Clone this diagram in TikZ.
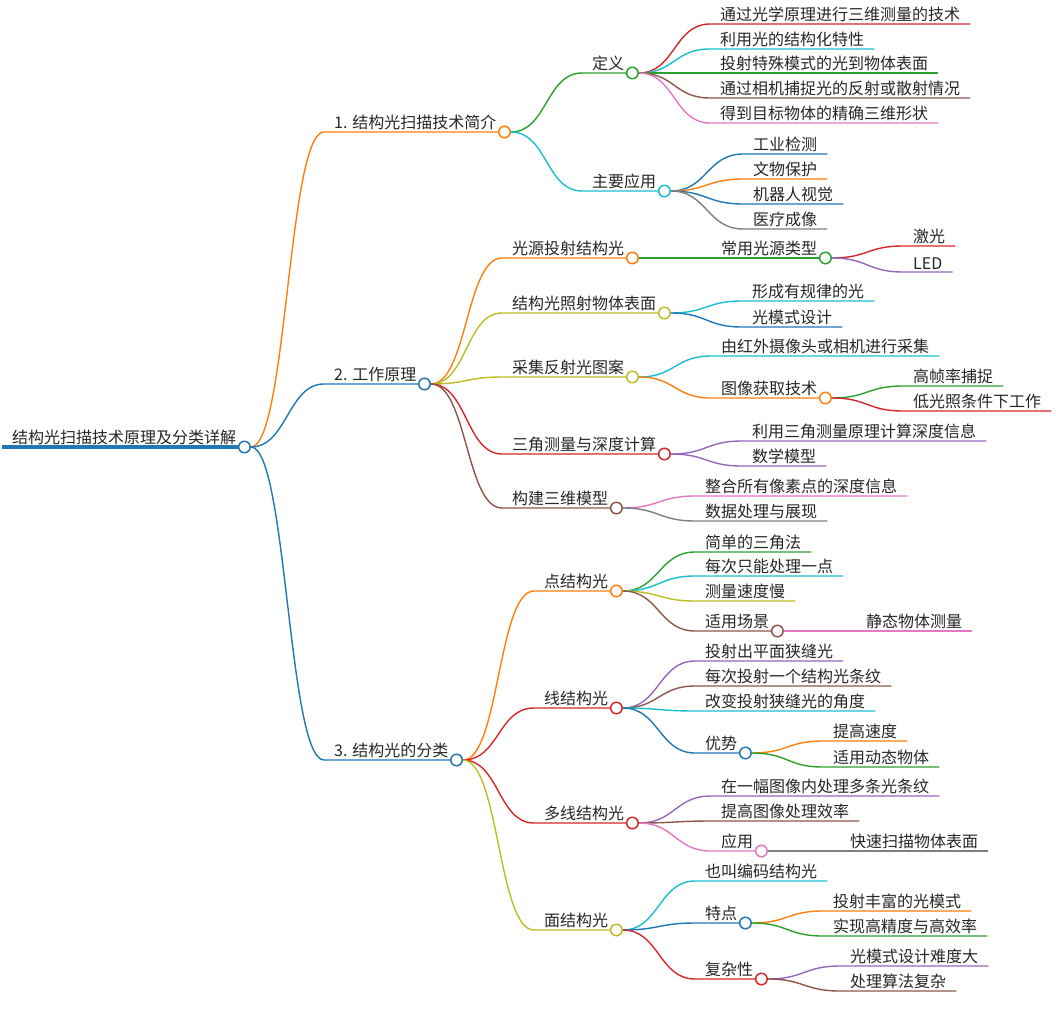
\documentclass[tikz,border=0pt]{standalone}
\usepackage{fontspec}
\setmainfont{Noto Sans CJK SC}
\usetikzlibrary{positioning}
\pgfdeclarelayer{bg}
\pgfsetlayers{bg,main}
\definecolor{tblue}{HTML}{1F77B4}
\definecolor{torange}{HTML}{FF7F0E}
\definecolor{tgreen}{HTML}{2CA02C}
\definecolor{tred}{HTML}{D62728}
\definecolor{tpurple}{HTML}{9467BD}
\definecolor{tbrown}{HTML}{8C564B}
\definecolor{tpink}{HTML}{E377C2}
\definecolor{tgray}{HTML}{7F7F7F}
\definecolor{tolive}{HTML}{BCBD22}
\definecolor{tcyan}{HTML}{17BECF}

\begin{document}
\begin{tikzpicture}[x=1pt,y=-1pt,
  topic/.style={anchor=south west,inner xsep=10pt,inner ysep=2pt,text=black!85,font=\fontsize{16pt}{19pt}\selectfont},
  hub/.style={circle,draw=#1,fill=white,line width=1.5pt,minimum size=11.5pt,inner sep=0pt},
  link/.style={draw=#1,line width=1.4pt,to path={.. controls +(36pt,0) and +(-36pt,0) .. (\tikztotarget)}}]
  \useasboundingbox (0,0) rectangle (1056,1022);

  \node[topic] (root) at (2,447) {结构光扫描技术原理及分类详解};
  \node[hub=tblue] (root-c) at ([xshift=-2pt]root.south east) {};

  \node[topic] (intro) at (324,132) {1. 结构光扫描技术简介};
  \node[hub=torange] (intro-c) at ([xshift=-2pt]intro.south east) {};
  \node[topic] (work) at (324,384) {2. 工作原理};
  \node[hub=tblue] (work-c) at ([xshift=-2pt]work.south east) {};
  \node[topic] (kind) at (324,760) {3. 结构光的分类};
  \node[hub=tblue] (kind-c) at ([xshift=-2pt]kind.south east) {};

  \node[topic] (def) at (582,73) {定义};
  \node[hub=tgreen] (def-c) at ([xshift=-2pt]def.south east) {};
  \node[topic] (use) at (582,191) {主要应用};
  \node[hub=tcyan] (use-c) at ([xshift=-2pt]use.south east) {};
  \node[topic] (def1) at (710,24) {通过光学原理进行三维测量的技术};
  \node[topic] (def2) at (710,49) {利用光的结构化特性};
  \node[topic] (def3) at (710,73) {投射特殊模式的光到物体表面};
  \node[topic] (def4) at (710,98) {通过相机捕捉光的反射或散射情况};
  \node[topic] (def5) at (710,123) {得到目标物体的精确三维形状};
  \node[topic] (use1) at (743,154) {工业检测};
  \node[topic] (use2) at (743,179) {文物保护};
  \node[topic] (use3) at (743,204) {机器人视觉};
  \node[topic] (use4) at (743,229) {医疗成像};

  \node[topic] (src) at (502,258) {光源投射结构光};
  \node[hub=torange] (src-c) at ([xshift=-2pt]src.south east) {};
  \node[topic] (lit) at (502,313) {结构光照射物体表面};
  \node[hub=tolive] (lit-c) at ([xshift=-2pt]lit.south east) {};
  \node[topic] (cap) at (502,377) {采集反射光图案};
  \node[hub=tolive] (cap-c) at ([xshift=-2pt]cap.south east) {};
  \node[topic] (tri) at (502,454) {三角测量与深度计算};
  \node[hub=tred] (tri-c) at ([xshift=-2pt]tri.south east) {};
  \node[topic] (build) at (502,508) {构建三维模型};
  \node[hub=tbrown] (build-c) at ([xshift=-2pt]build.south east) {};
  \node[topic] (srctype) at (711,258) {常用光源类型};
  \node[hub=tgreen] (srctype-c) at ([xshift=-2pt]srctype.south east) {};
  \node[topic] (laser) at (903,246) {激光};
  \node[topic] (led) at (903,272) {LED};
  \node[topic] (lit1) at (742,301) {形成有规律的光};
  \node[topic] (lit2) at (742,327) {光模式设计};
  \node[topic] (cap1) at (711,356) {由红外摄像头或相机进行采集};
  \node[topic] (capimg) at (711,398) {图像获取技术};
  \node[hub=torange] (capimg-c) at ([xshift=-2pt]capimg.south east) {};
  \node[topic] (img1) at (903,386) {高帧率捕捉};
  \node[topic] (img2) at (903,411) {低光照条件下工作};
  \node[topic] (tri1) at (742,441) {利用三角测量原理计算深度信息};
  \node[topic] (tri2) at (742,466) {数学模型};
  \node[topic] (build1) at (695,496) {整合所有像素点的深度信息};
  \node[topic] (build2) at (695,521) {数据处理与展现};

  \node[topic] (point) at (534,591) {点结构光};
  \node[hub=torange] (point-c) at ([xshift=-2pt]point.south east) {};
  \node[topic] (line) at (534,708) {线结构光};
  \node[hub=tred] (line-c) at ([xshift=-2pt]line.south east) {};
  \node[topic] (multi) at (534,823) {多线结构光};
  \node[hub=tred] (multi-c) at ([xshift=-2pt]multi.south east) {};
  \node[topic] (area) at (534,930) {面结构光};
  \node[hub=tolive] (area-c) at ([xshift=-2pt]area.south east) {};
  \node[topic] (pt1) at (695,552) {简单的三角法};
  \node[topic] (pt2) at (695,576) {每次只能处理一点};
  \node[topic] (pt3) at (695,601) {测量速度慢};
  \node[topic] (ptscene) at (695,631) {适用场景};
  \node[hub=tbrown] (ptscene-c) at ([xshift=-2pt]ptscene.south east) {};
  \node[topic] (ptstatic) at (856,631) {静态物体测量};
  \node[topic] (ln1) at (695,661) {投射出平面狭缝光};
  \node[topic] (ln2) at (695,686) {每次投射一个结构光条纹};
  \node[topic] (ln3) at (695,711) {改变投射狭缝光的角度};
  \node[topic] (lnadv) at (695,753) {优势};
  \node[hub=tblue] (lnadv-c) at ([xshift=-2pt]lnadv.south east) {};
  \node[topic] (adv1) at (823,741) {提高速度};
  \node[topic] (adv2) at (823,767) {适用动态物体};
  \node[topic] (ml1) at (711,796) {在一幅图像内处理多条光条纹};
  \node[topic] (ml2) at (711,821) {提高图像处理效率};
  \node[topic] (mluse) at (711,851) {应用};
  \node[hub=tpink] (mluse-c) at ([xshift=-2pt]mluse.south east) {};
  \node[topic] (mlscan) at (840,851) {快速扫描物体表面};
  \node[topic] (ar1) at (695,881) {也叫编码结构光};
  \node[topic] (arfeat) at (695,923) {特点};
  \node[hub=tblue] (arfeat-c) at ([xshift=-2pt]arfeat.south east) {};
  \node[topic] (feat1) at (823,911) {投射丰富的光模式};
  \node[topic] (feat2) at (823,936) {实现高精度与高效率};
  \node[topic] (arcplx) at (695,979) {复杂性};
  \node[hub=tred] (arcplx-c) at ([xshift=-2pt]arcplx.south east) {};
  \node[topic] (cplx1) at (840,966) {光模式设计难度大};
  \node[topic] (cplx2) at (840,991) {处理算法复杂};

  \begin{pgfonlayer}{bg}
    \draw[tblue,line width=3.5pt] (root.south west) -- (root-c);
    \draw[link=torange] (root-c.east) to (intro.south west) -- (intro-c);
    \draw[link=tblue] (root-c.east) to (work.south west) -- (work-c);
    \draw[link=tblue] (root-c.east) to (kind.south west) -- (kind-c);

    \draw[link=tgreen] (intro-c.east) to (def.south west) -- (def-c);
    \draw[link=tcyan] (intro-c.east) to (use.south west) -- (use-c);
    \draw[link=tred] (def-c.east) to (def1.south west) -- (def1.south east);
    \draw[link=tcyan] (def-c.east) to (def2.south west) -- (def2.south east);
    \draw[link=tgreen] (def-c.east) to (def3.south west) -- (def3.south east);
    \draw[link=tbrown] (def-c.east) to (def4.south west) -- (def4.south east);
    \draw[link=tpink] (def-c.east) to (def5.south west) -- (def5.south east);
    \draw[link=tblue] (use-c.east) to (use1.south west) -- (use1.south east);
    \draw[link=torange] (use-c.east) to (use2.south west) -- (use2.south east);
    \draw[link=tblue] (use-c.east) to (use3.south west) -- (use3.south east);
    \draw[link=tgray] (use-c.east) to (use4.south west) -- (use4.south east);

    \draw[link=torange] (work-c.east) to (src.south west) -- (src-c);
    \draw[link=tolive] (work-c.east) to (lit.south west) -- (lit-c);
    \draw[link=tolive] (work-c.east) to (cap.south west) -- (cap-c);
    \draw[link=tred] (work-c.east) to (tri.south west) -- (tri-c);
    \draw[link=tbrown] (work-c.east) to (build.south west) -- (build-c);
    \draw[link=tgreen] (src-c.east) to (srctype.south west) -- (srctype-c);
    \draw[link=tred] (srctype-c.east) to (laser.south west) -- (laser.south east);
    \draw[link=tpurple] (srctype-c.east) to (led.south west) -- (led.south east);
    \draw[link=tcyan] (lit-c.east) to (lit1.south west) -- (lit1.south east);
    \draw[link=tblue] (lit-c.east) to (lit2.south west) -- (lit2.south east);
    \draw[link=tcyan] (cap-c.east) to (cap1.south west) -- (cap1.south east);
    \draw[link=torange] (cap-c.east) to (capimg.south west) -- (capimg-c);
    \draw[link=tgreen] (capimg-c.east) to (img1.south west) -- (img1.south east);
    \draw[link=tred] (capimg-c.east) to (img2.south west) -- (img2.south east);
    \draw[link=tpurple] (tri-c.east) to (tri1.south west) -- (tri1.south east);
    \draw[link=tpurple] (tri-c.east) to (tri2.south west) -- (tri2.south east);
    \draw[link=tpink] (build-c.east) to (build1.south west) -- (build1.south east);
    \draw[link=tgray] (build-c.east) to (build2.south west) -- (build2.south east);

    \draw[link=torange] (kind-c.east) to (point.south west) -- (point-c);
    \draw[link=tred] (kind-c.east) to (line.south west) -- (line-c);
    \draw[link=tred] (kind-c.east) to (multi.south west) -- (multi-c);
    \draw[link=tolive] (kind-c.east) to (area.south west) -- (area-c);
    \draw[link=tgreen] (point-c.east) to (pt1.south west) -- (pt1.south east);
    \draw[link=tcyan] (point-c.east) to (pt2.south west) -- (pt2.south east);
    \draw[link=tolive] (point-c.east) to (pt3.south west) -- (pt3.south east);
    \draw[link=tbrown] (point-c.east) to (ptscene.south west) -- (ptscene-c);
    \draw[link=tpink] (ptscene-c.east) to (ptstatic.south west) -- (ptstatic.south east);
    \draw[link=tpurple] (line-c.east) to (ln1.south west) -- (ln1.south east);
    \draw[link=tbrown] (line-c.east) to (ln2.south west) -- (ln2.south east);
    \draw[link=tcyan] (line-c.east) to (ln3.south west) -- (ln3.south east);
    \draw[link=tblue] (line-c.east) to (lnadv.south west) -- (lnadv-c);
    \draw[link=torange] (lnadv-c.east) to (adv1.south west) -- (adv1.south east);
    \draw[link=tgreen] (lnadv-c.east) to (adv2.south west) -- (adv2.south east);
    \draw[link=tpurple] (multi-c.east) to (ml1.south west) -- (ml1.south east);
    \draw[link=tbrown] (multi-c.east) to (ml2.south west) -- (ml2.south east);
    \draw[link=tpink] (multi-c.east) to (mluse.south west) -- (mluse-c);
    \draw[link=tgray] (mluse-c.east) to (mlscan.south west) -- (mlscan.south east);
    \draw[link=tcyan] (area-c.east) to (ar1.south west) -- (ar1.south east);
    \draw[link=tblue] (area-c.east) to (arfeat.south west) -- (arfeat-c);
    \draw[link=tred] (area-c.east) to (arcplx.south west) -- (arcplx-c);
    \draw[link=torange] (arfeat-c.east) to (feat1.south west) -- (feat1.south east);
    \draw[link=tgreen] (arfeat-c.east) to (feat2.south west) -- (feat2.south east);
    \draw[link=tpurple] (arcplx-c.east) to (cplx1.south west) -- (cplx1.south east);
    \draw[link=tbrown] (arcplx-c.east) to (cplx2.south west) -- (cplx2.south east);
  \end{pgfonlayer}
\end{tikzpicture}
\end{document}
